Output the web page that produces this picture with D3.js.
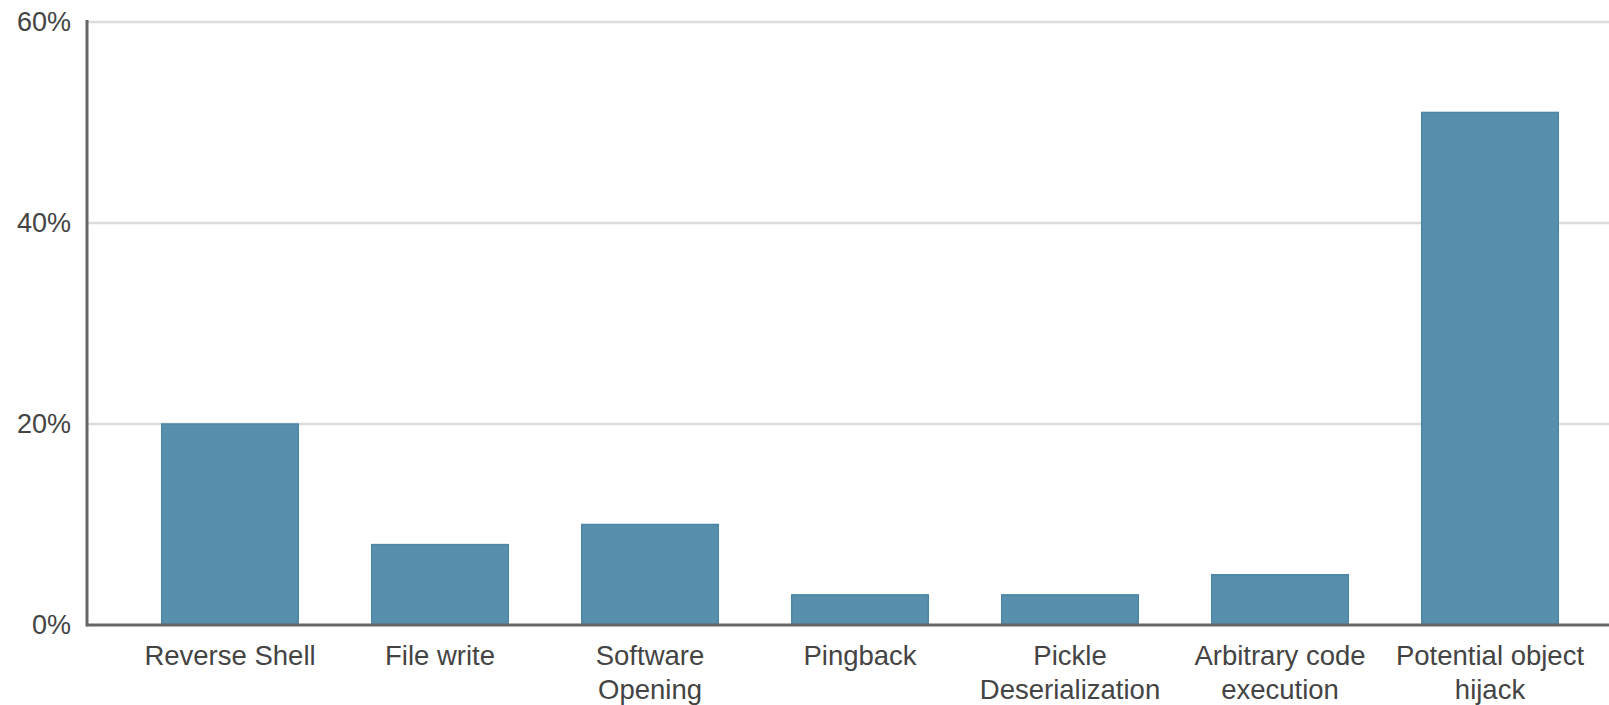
<!DOCTYPE html>
<html>
<head>
<meta charset="utf-8">
<script src="https://cdn.jsdelivr.net/npm/d3@7"></script>
<style>
  html, body { margin: 0; padding: 0; background: #fff; }
  svg { display: block; font-family: "Liberation Sans", Arial, sans-serif; }
</style>
</head>
<body>
<svg id="chart" width="1609" height="705"></svg>
<script>
const categories = ["Reverse Shell", "File write", "Software Opening", "Pingback", "Pickle Deserialization", "Arbitrary code execution", "Potential object hijack"];
const values = [20, 8, 10, 3, 3, 5, 51];
const yTicks = [0, 20, 40, 60];

const svg = d3.select("#chart");
const W = 1609, H = 705;
const axisX = 87, baseY = 625, topY = 22;

const x = d3.scaleBand().domain(categories).range([125, 1595]).paddingInner(0.35).paddingOuter(0.175);
const y = d3.scaleLinear().domain([0, 60]).range([baseY, topY]);

// gridlines
svg.append("g").selectAll("line").data(yTicks.filter(d => d > 0)).join("line")
  .attr("x1", axisX).attr("x2", W)
  .attr("y1", d => y(d)).attr("y2", d => y(d))
  .attr("stroke", "#dcdcdc").attr("stroke-width", 2.5);

// bars
svg.append("g").selectAll("rect").data(values).join("rect")
  .attr("x", (d, i) => x(categories[i]))
  .attr("width", x.bandwidth())
  .attr("y", d => y(d))
  .attr("height", d => baseY - y(d))
  .attr("fill", "#578fad")
  .attr("stroke", "#4e87a6").attr("stroke-width", 1.5);

// y axis
const yAxis = svg.append("g").attr("transform", `translate(${axisX},0)`)
  .call(d3.axisLeft(y).tickValues(yTicks).tickFormat(d => d + "%").tickSize(0).tickPadding(16));
yAxis.select(".domain").remove();
yAxis.selectAll("text").attr("font-size", 27).attr("fill", "#444").attr("font-family", "Liberation Sans, Arial, sans-serif");
svg.append("line").attr("x1", axisX).attr("x2", axisX).attr("y1", topY - 2).attr("y2", baseY + 1.5)
  .attr("stroke", "#666").attr("stroke-width", 3);

// x axis
const xAxis = svg.append("g").attr("transform", `translate(0,${baseY})`)
  .call(d3.axisBottom(x).tickSize(0));
xAxis.select(".domain").remove();
svg.append("line").attr("x1", axisX).attr("x2", W).attr("y1", baseY).attr("y2", baseY)
  .attr("stroke", "#666").attr("stroke-width", 3);

xAxis.selectAll("text")
  .attr("font-size", 27.5).attr("fill", "#444").attr("font-family", "Liberation Sans, Arial, sans-serif")
  .attr("y", 0).attr("dy", null)
  .each(function(d) {
    const t = d3.select(this);
    const words = d.split(" ");
    t.text(null);
    const maxW = 205;
    let lines = [];
    let line = [];
    const probe = t.append("tspan");
    for (const w of words) {
      line.push(w);
      probe.text(line.join(" "));
      if (probe.node().getComputedTextLength() > maxW && line.length > 1) {
        line.pop();
        lines.push(line.join(" "));
        line = [w];
      }
    }
    lines.push(line.join(" "));
    probe.remove();
    lines.forEach((l, i) => {
      t.append("tspan").attr("x", 0).attr("y", 40 + i * 34).text(l);
    });
  });
</script>
</body>
</html>
